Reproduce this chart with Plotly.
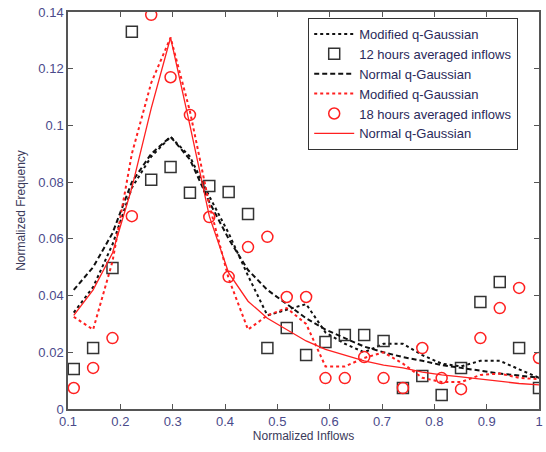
import plotly.graph_objects as go

# x positions of the averaged inflow bins
x = [0.111, 0.148, 0.185, 0.222, 0.259, 0.296, 0.333, 0.370, 0.407, 0.444,
     0.481, 0.518, 0.555, 0.592, 0.629, 0.666, 0.703, 0.740, 0.777, 0.814,
     0.851, 0.888, 0.925, 0.962, 1.000]

# 12 hours averaged inflows (squares)
obs12 = [0.0141, 0.0215, 0.0497, 0.133, 0.0808, 0.0853, 0.0763, 0.0786, 0.0765, 0.0688,
         0.0215, 0.0286, 0.0190, 0.0236, 0.0261, 0.0261, 0.0240, 0.0074, 0.0116, 0.0049,
         0.0145, 0.0377, 0.0448, 0.0215, 0.0074]

# 18 hours averaged inflows (circles)
obs18 = [0.0074, 0.0145, 0.0250, 0.0680, 0.139, 0.117, 0.1037, 0.0677, 0.0466, 0.0571,
         0.0607, 0.0395, 0.0395, 0.0109, 0.0109, 0.0183, 0.0109, 0.0074, 0.0215, 0.0109,
         0.0070, 0.0250, 0.0356, 0.0427, 0.0180]

# Modified q-Gaussian fit, 12 h (black dotted)
mod12 = [0.034, 0.043, 0.058, 0.078, 0.089, 0.096, 0.089, 0.075, 0.062, 0.047,
         0.033, 0.035, 0.037, 0.027, 0.023, 0.020, 0.023, 0.023, 0.019, 0.016,
         0.015, 0.017, 0.017, 0.014, 0.011]

# Normal q-Gaussian fit, 12 h (black dashed)
norm12 = [0.042, 0.050, 0.062, 0.080, 0.090, 0.096, 0.088, 0.073, 0.060, 0.049,
          0.042, 0.037, 0.032, 0.028, 0.025, 0.022, 0.020, 0.0183, 0.017, 0.0155,
          0.0145, 0.0135, 0.0125, 0.0118, 0.011]

# Modified q-Gaussian fit, 18 h (red dotted)
mod18 = [0.0325, 0.028, 0.052, 0.090, 0.115, 0.131, 0.105, 0.072, 0.046, 0.028,
         0.033, 0.0356, 0.030, 0.015, 0.015, 0.018, 0.020, 0.016, 0.011, 0.0095,
         0.0095, 0.012, 0.0125, 0.011, 0.0105]

# Normal q-Gaussian fit, 18 h (red solid)
norm18 = [0.033, 0.042, 0.055, 0.078, 0.106, 0.131, 0.100, 0.068, 0.048, 0.038,
          0.032, 0.028, 0.024, 0.021, 0.019, 0.017, 0.0155, 0.0145, 0.013, 0.012,
          0.0113, 0.0105, 0.0098, 0.009, 0.0085]

xticks = [0.1, 0.2, 0.3, 0.4, 0.5, 0.6, 0.7, 0.8, 0.9, 1.0]
xticklabels = ["0.1", "0.2", "0.3", "0.4", "0.5", "0.6", "0.7", "0.8", "0.9", "1"]
yticks = [0, 0.02, 0.04, 0.06, 0.08, 0.1, 0.12, 0.14]
yticklabels = ["0", "0.02", "0.04", "0.06", "0.08", "0.1", "0.12", "0.14"]

RED = "#ff2020"
BLK = "#111111"
FONT = "Liberation Sans, Arial"

fig = go.Figure()
fig.add_trace(go.Scatter(x=x, y=mod12, mode="lines", name="Modified q-Gaussian",
                         line=dict(color=BLK, dash="dot", width=2)))
fig.add_trace(go.Scatter(x=x, y=obs12, mode="markers", name="12 hours averaged inflows",
                         marker=dict(symbol="square-open", size=11, color="#333333",
                                     line=dict(width=1.5))))
fig.add_trace(go.Scatter(x=x, y=norm12, mode="lines", name="Normal q-Gaussian",
                         line=dict(color=BLK, dash="5px,3px", width=2)))
fig.add_trace(go.Scatter(x=x, y=mod18, mode="lines", name="Modified q-Gaussian",
                         line=dict(color=RED, dash="dot", width=2)))
fig.add_trace(go.Scatter(x=x, y=obs18, mode="markers", name="18 hours averaged inflows",
                         marker=dict(symbol="circle-open", size=11, color=RED,
                                     line=dict(width=1.5))))
fig.add_trace(go.Scatter(x=x, y=norm18, mode="lines", name="Normal q-Gaussian",
                         line=dict(color=RED, width=1.3)))

axis_common = dict(showgrid=False, zeroline=False, showline=True, linecolor="#555555",
                   linewidth=1.5, mirror="ticks", ticks="inside", ticklen=5,
                   tickcolor="#555555",
                   tickfont=dict(family=FONT, size=13, color="#4a4a8a"))

fig.update_xaxes(range=[0.1, 1.0], tickvals=xticks, ticktext=xticklabels,
                 title=dict(text="Normalized Inflows", standoff=2,
                            font=dict(family=FONT, size=12, color="#3a3a5a")),
                 **axis_common)
fig.update_yaxes(range=[0, 0.14], tickvals=yticks, ticktext=yticklabels,
                 title=dict(text="Normalized Frequency", standoff=10,
                            font=dict(family=FONT, size=12, color="#3a3a5a")),
                 **axis_common)

fig.update_layout(
    width=546, height=452,
    margin=dict(l=68, r=3, t=12, b=43),
    paper_bgcolor="white", plot_bgcolor="white",
    showlegend=True,
    legend=dict(x=0.51, y=0.985, xanchor="left", yanchor="top",
                bgcolor="white", bordercolor="#333333", borderwidth=1,
                font=dict(family=FONT, size=13, color="#2a2a5a"),
                tracegroupgap=0, itemwidth=40),
)

fig.write_html("out.html")
